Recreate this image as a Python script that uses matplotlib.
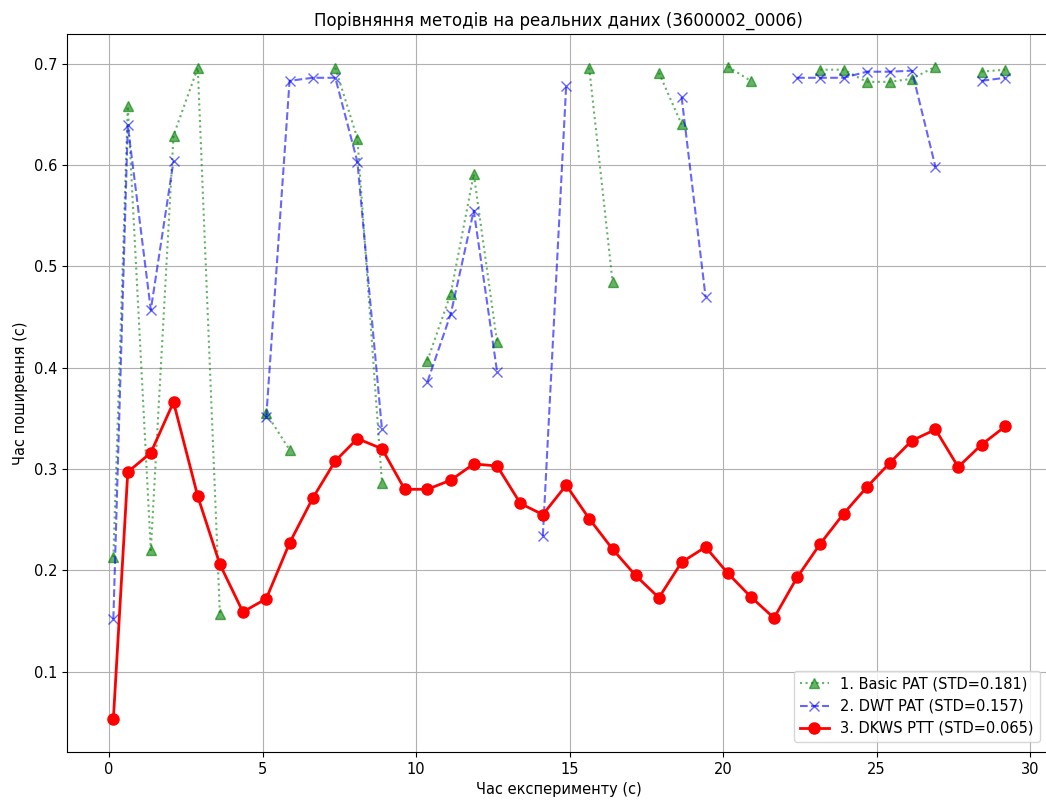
import numpy as np
import matplotlib.pyplot as plt

nan = np.nan

# час удару (с)
t = [0.14, 0.61, 1.36, 2.10, 2.89, 3.61, 4.36, 5.12, 5.88, 6.63,
     7.37, 8.09, 8.89, 9.63, 10.37, 11.13, 11.88, 12.64, 13.40, 14.13,
     14.89, 15.64, 16.40, 17.15, 17.91, 18.65, 19.43, 20.16, 20.90, 21.66,
     22.41, 23.16, 23.93, 24.68, 25.43, 26.15, 26.92, 27.66, 28.42, 29.19]

basic_pat = [0.213, 0.658, 0.220, 0.629, 0.696, 0.157, nan, 0.355, 0.319, nan,
             0.696, 0.626, 0.286, nan, 0.407, 0.473, 0.591, 0.425, nan, nan,
             nan, 0.696, 0.485, nan, 0.691, 0.640, nan, 0.697, 0.683, nan,
             nan, 0.694, 0.694, 0.682, 0.682, 0.685, 0.697, nan, 0.692, 0.694]

dwt_pat = [0.152, 0.639, 0.457, 0.604, nan, nan, nan, 0.351, 0.683, 0.686,
           0.686, 0.603, 0.339, nan, 0.386, 0.453, 0.555, 0.396, nan, 0.234,
           0.678, nan, nan, nan, nan, 0.667, 0.470, nan, nan, nan,
           0.686, 0.686, 0.686, 0.692, 0.692, 0.693, 0.598, nan, 0.683, 0.686]

dkws_ptt = [0.053, 0.297, 0.316, 0.366, 0.273, 0.206, 0.159, 0.172, 0.227, 0.271,
            0.308, 0.330, 0.320, 0.280, 0.280, 0.289, 0.305, 0.303, 0.266, 0.255,
            0.284, 0.251, 0.221, 0.195, 0.173, 0.208, 0.223, 0.197, 0.174, 0.153,
            0.193, 0.226, 0.256, 0.282, 0.306, 0.328, 0.339, 0.302, 0.324, 0.342]

std_labels = ["1. Basic PAT (STD=0.181)", "2. DWT PAT (STD=0.157)", "3. DKWS PTT (STD=0.065)"]

fig = plt.figure(figsize=(10.46, 8.06), dpi=100)
ax = fig.add_axes([67/1046, 1 - 752/806, (1050 - 67)/1046, (752 - 34)/806])

ax.plot(t, basic_pat, 'g:^', alpha=0.6, markersize=7, label=std_labels[0])
ax.plot(t, dwt_pat, 'b--x', alpha=0.6, markersize=7, linewidth=1.5, label=std_labels[1])
ax.plot(t, dkws_ptt, 'r-o', linewidth=2, markersize=8, label=std_labels[2])

ax.set_xlim(-1.37, 30.65)
ax.set_title("Порівняння методів на реальних даних (3600002_0006)", fontsize=12)
ax.set_xlabel("Час експерименту (с)", fontsize=10.5)
ax.set_ylabel("Час поширення (с)", fontsize=10.5)
ax.tick_params(labelsize=10.5)
ax.grid(True)
ax.legend(loc='lower right', fontsize=10.5, borderaxespad=0.7)

fig.savefig("out.png", dpi=100)
